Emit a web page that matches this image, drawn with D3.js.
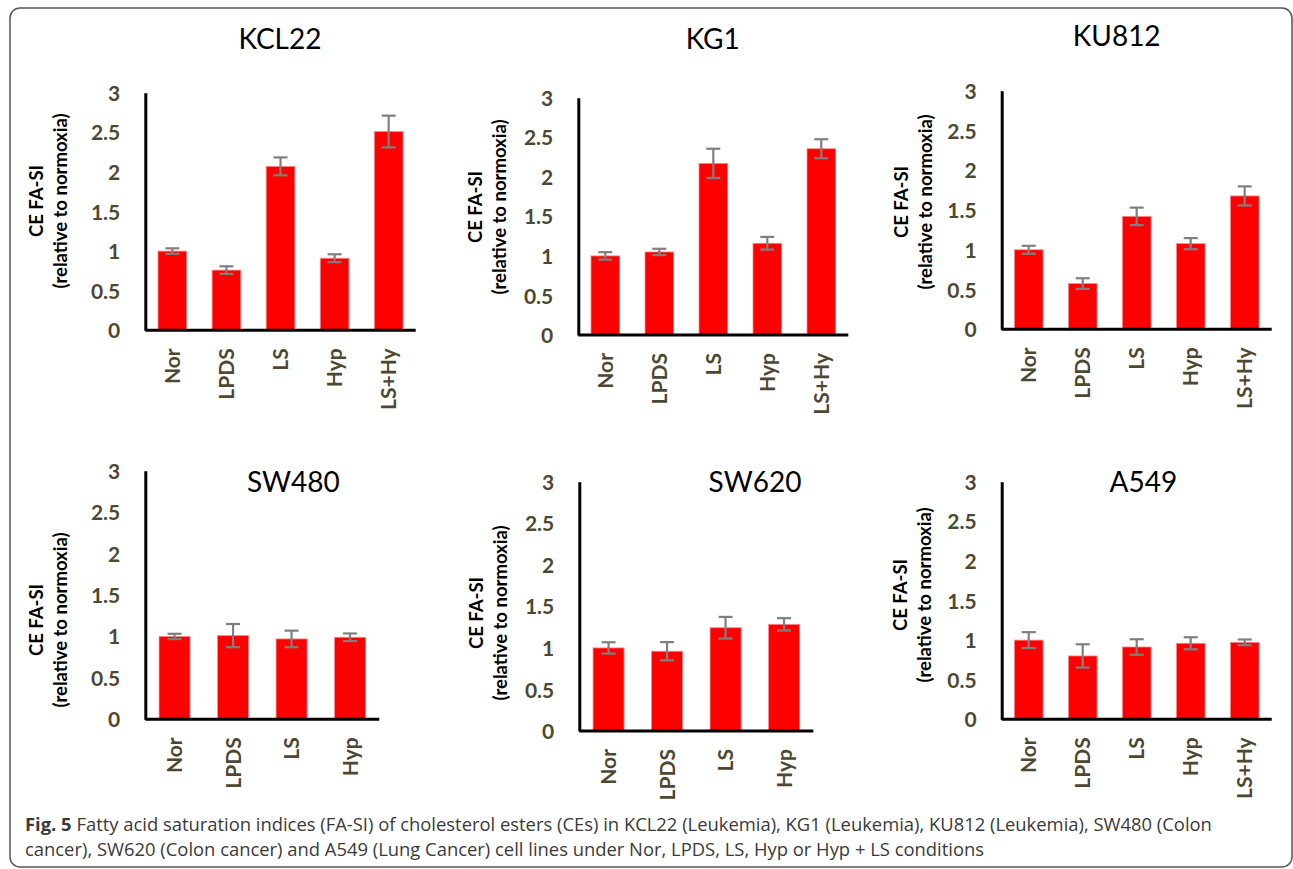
<!DOCTYPE html>
<html lang="en">
<head>
<meta charset="utf-8">
<title>CE FA-SI</title>
<script src="https://d3js.org/d3.v7.min.js"></script>
<style>
  body { margin: 0; background: #fff; }
  svg { display: block; }
  .tick text { fill: #4d4832; font-family: Lato, "Open Sans", sans-serif; font-weight: bold; font-size: 21px; }
  .ytitle { font-family: Lato, "Open Sans", sans-serif; font-weight: bold; font-size: 18.5px; fill: #000; }
  .ptitle { font-family: Lato, "Open Sans", sans-serif; font-size: 28px; fill: #000; }
  .caption { font-family: "Open Sans", sans-serif; font-size: 18.4px; fill: #3a3a3a; }
</style>
</head>
<body>
<svg id="chart"></svg>
<script>
// data
var cellLines = ["KCL22", "KG1", "KU812", "SW480", "SW620", "A549"];
var conds5 = ["Nor", "LPDS", "LS", "Hyp", "LS+Hy"];
var conds4 = ["Nor", "LPDS", "LS", "Hyp"];
var yTicks = [0, 0.5, 1, 1.5, 2, 2.5, 3];

var kcl22Mean = [1.0, 0.76, 2.07, 0.91, 2.51];
var kcl22Err  = [0.035, 0.048, 0.113, 0.05, 0.2];
var kg1Mean   = [1.0, 1.05, 2.17, 1.16, 2.355];
var kg1Err    = [0.047, 0.04, 0.185, 0.08, 0.12];
var ku812Mean = [1.0, 0.575, 1.42, 1.077, 1.677];
var ku812Err  = [0.05, 0.067, 0.11, 0.07, 0.12];
var sw480Mean = [1.0, 1.01, 0.97, 0.99];
var sw480Err  = [0.032, 0.14, 0.1, 0.046];
var sw620Mean = [1.0, 0.96, 1.243, 1.284];
var sw620Err  = [0.068, 0.11, 0.13, 0.074];
var a549Mean  = [1.0, 0.80, 0.913, 0.96, 0.972];
var a549Err   = [0.1, 0.147, 0.098, 0.076, 0.036];

var captionBold = "Fig. 5";
var captionLine1 = " Fatty acid saturation indices (FA-SI) of cholesterol esters (CEs) in KCL22 (Leukemia), KG1 (Leukemia), KU812 (Leukemia), SW480 (Colon";
var captionLine2 = "cancer), SW620 (Colon cancer) and A549 (Lung Cancer) cell lines under Nor, LPDS, LS, Hyp or Hyp + LS conditions";

// panel placement
var panels = [
  {name: cellLines[0], cats: conds5, mean: kcl22Mean, err: kcl22Err, x0: 145.3, x1: 415.7, top: 92.7, bot: 330.3, tx: 280, ty: 49, yx: 36.7, yy: 201},
  {name: cellLines[1], cats: conds5, mean: kg1Mean, err: kg1Err, x0: 578.3, x1: 848.3, top: 97.7, bot: 335, tx: 712.7, ty: 49.3, yx: 475, yy: 207},
  {name: cellLines[2], cats: conds5, mean: ku812Mean, err: ku812Err, x0: 1001.7, x1: 1271.7, top: 90.7, bot: 329.3, tx: 1116.7, ty: 45.7, yx: 901.7, yy: 202},
  {name: cellLines[3], cats: conds4, mean: sw480Mean, err: sw480Err, x0: 145.3, x1: 379.3, top: 470.7, bot: 719.3, tx: 293.3, ty: 491.7, yx: 36.7, yy: 620},
  {name: cellLines[4], cats: conds4, mean: sw620Mean, err: sw620Err, x0: 579.3, x1: 813.3, top: 481.7, bot: 731, tx: 755, ty: 491.7, yx: 476.7, yy: 613},
  {name: cellLines[5], cats: conds5, mean: a549Mean, err: a549Err, x0: 1001.7, x1: 1271.7, top: 481.7, bot: 719.3, tx: 1143.3, ty: 491.7, yx: 900, yy: 595}
];

var width = 1293, height = 869;
var svg = d3.select("#chart").attr("width", width).attr("height", height);

svg.append("rect")
  .attr("x", 10).attr("y", 8)
  .attr("width", 1282).attr("height", 859)
  .attr("rx", 10)
  .attr("fill", "none")
  .attr("stroke", "#555")
  .attr("stroke-width", 1.5);

panels.forEach(function(p){
  var g = svg.append("g");
  var x = d3.scaleBand().domain(p.cats).range([p.x0, p.x1]).paddingInner(0.47).paddingOuter(0.235);
  var y = d3.scaleLinear().domain([0, 3]).range([p.bot, p.top]);
  var rows = p.cats.map(function(c, i){ return {cat: c, v: p.mean[i], e: p.err[i]}; });

  g.selectAll("rect.bar")
    .data(rows)
    .enter()
    .append("rect")
    .attr("class", "bar")
    .attr("x", function(d){ return x(d.cat); })
    .attr("y", function(d){ return y(d.v); })
    .attr("width", x.bandwidth())
    .attr("height", function(d){ return y(0) - y(d.v); })
    .attr("fill", "#ff0000")
    .attr("stroke", "#ff8c8c")
    .attr("stroke-width", 0.8);

  var eb = g.selectAll("g.err").data(rows).enter().append("g")
    .attr("stroke", "#7f7f7f").attr("stroke-width", 2.2);
  eb.append("line")
    .attr("x1", function(d){ return x(d.cat) + x.bandwidth()/2; })
    .attr("x2", function(d){ return x(d.cat) + x.bandwidth()/2; })
    .attr("y1", function(d){ return y(d.v + d.e); })
    .attr("y2", function(d){ return y(d.v - d.e); });
  [1, -1].forEach(function(s){
    eb.append("line")
      .attr("x1", function(d){ return x(d.cat) + x.bandwidth()/2 - 7; })
      .attr("x2", function(d){ return x(d.cat) + x.bandwidth()/2 + 7; })
      .attr("y1", function(d){ return y(d.v + s*d.e); })
      .attr("y2", function(d){ return y(d.v + s*d.e); });
  });

  var ya = g.append("g")
    .attr("transform", "translate(" + p.x0 + ",0)")
    .call(d3.axisLeft(y).tickValues(yTicks).tickSize(0).tickPadding(25).tickFormat(d3.format("")));
  ya.select(".domain").attr("stroke", "#000").attr("stroke-width", 3);
  ya.selectAll(".tick text").attr("dy", "0.36em");

  var xa = g.append("g")
    .attr("transform", "translate(0," + p.bot + ")")
    .call(d3.axisBottom(x).tickSize(0).tickSizeOuter(0));
  xa.select(".domain").attr("stroke", "#000").attr("stroke-width", 3).attr("d", "M" + p.x0 + ",0H" + p.x1);
  xa.selectAll(".tick text")
    .attr("transform", "rotate(-90)")
    .attr("x", -18).attr("y", 0).attr("dy", "0.36em")
    .attr("text-anchor", "end");

  g.append("text").attr("class", "ptitle")
    .attr("x", p.tx).attr("y", p.ty).attr("text-anchor", "middle")
    .text(p.name);

  var yt = g.append("text").attr("class", "ytitle")
    .attr("transform", "translate(" + p.yx + "," + p.yy + ") rotate(-90)")
    .attr("text-anchor", "middle");
  yt.append("tspan").attr("x", 0).attr("y", 0).attr("dy", "0.36em").text("CE FA-SI");
  yt.append("tspan").attr("x", 0).attr("y", 24).attr("dy", "0.36em").text("(relative to normoxia)");
});

var cap = svg.append("text").attr("class", "caption").attr("x", 25).attr("y", 831);
cap.append("tspan").attr("font-weight", "bold").text(captionBold);
cap.append("tspan").text(captionLine1);
svg.append("text").attr("class", "caption").attr("x", 25).attr("y", 856).text(captionLine2);
</script>
</body>
</html>
